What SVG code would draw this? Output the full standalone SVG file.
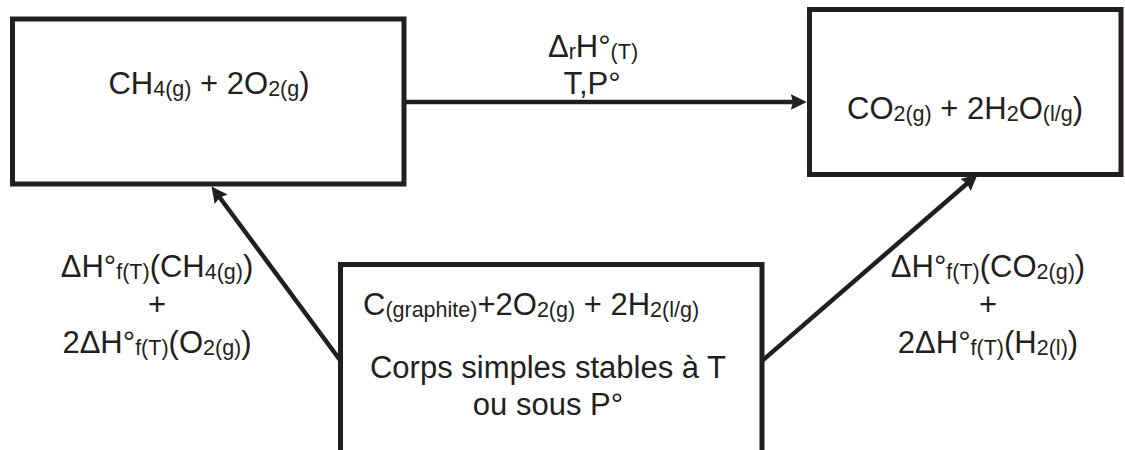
<svg xmlns="http://www.w3.org/2000/svg" width="1125" height="450" viewBox="0 0 1125 450">
<style>
.box{fill:#fff;stroke:#231f20;stroke-width:5}
.con{fill:none;stroke:#231f20;stroke-width:4.5}
text{font-family:"Liberation Sans",Arial,sans-serif;font-size:31px;fill:#231f20}
.m{text-anchor:middle}
.s{font-size:21.5px}
</style>
<defs>
<marker id="ah" markerUnits="userSpaceOnUse" markerWidth="16" markerHeight="16" viewBox="0 0 14 14" refX="9" refY="7" orient="auto">
<path d="M0,0 L14,7 L0,14 L2,7 z" fill="#231f20"/>
</marker>
</defs>
<rect width="1125" height="450" fill="#fff"/>
<g id="connectors">
<line class="con" x1="406" y1="102" x2="801" y2="102" stroke-width="5" marker-end="url(#ah)"/>
<line class="con" x1="340" y1="360" x2="214.97" y2="191.02" marker-end="url(#ah)"/>
<line class="con" x1="763" y1="360" x2="973.22" y2="178.27" marker-end="url(#ah)"/>
</g>
<g id="reactants">
<rect class="box" x="12.5" y="19" width="391.5" height="165"/>
<text class="m" x="209" y="94">CH<tspan class="s" dy="2">4(g)</tspan><tspan dy="-2"> + 2O</tspan><tspan class="s" dy="2">2(g</tspan><tspan dy="-2">)</tspan></text>
</g>
<g id="products">
<rect class="box" x="809.5" y="9.5" width="311.5" height="165"/>
<text class="m" x="965" y="119">CO<tspan class="s" dy="2">2(g)</tspan><tspan dy="-2"> + 2H</tspan><tspan class="s" dy="2">2</tspan><tspan dy="-2">O</tspan><tspan class="s" dy="2">(l/g</tspan><tspan dy="-2">)</tspan></text>
</g>
<g id="elements">
<path class="box" d="M340.5,460 V264.5 H762 V460"/>
<text x="363" y="315">C<tspan class="s" dy="2">(graphite)</tspan><tspan dy="-2">+2O</tspan><tspan class="s" dy="2">2(g)</tspan><tspan dy="-2"> + 2H</tspan><tspan class="s" dy="2">2(l/g)</tspan></text>
<text class="m" x="548" y="378">Corps simples stables à T</text>
<text class="m" x="548" y="415">ou sous P°</text>
</g>
<g id="label-reaction">
<text class="m" x="593" y="57">Δ<tspan class="s" dy="2">r</tspan><tspan dy="-2">H°</tspan><tspan class="s" dy="2">(T)</tspan></text>
<text class="m" x="592" y="94">T,P°</text>
</g>
<g id="label-left">
<text class="m" x="157" y="277">ΔH°<tspan class="s" dy="2">f(T)</tspan><tspan dy="-2">(CH</tspan><tspan class="s" dy="2">4(g)</tspan><tspan dy="-2">)</tspan></text>
<text class="m" x="157" y="315">+</text>
<text class="m" x="157" y="353">2ΔH°<tspan class="s" dy="2">f(T)</tspan><tspan dy="-2">(O</tspan><tspan class="s" dy="2">2(g)</tspan><tspan dy="-2">)</tspan></text>
</g>
<g id="label-right">
<text class="m" x="988" y="277">ΔH°<tspan class="s" dy="2">f(T)</tspan><tspan dy="-2">(CO</tspan><tspan class="s" dy="2">2(g)</tspan><tspan dy="-2">)</tspan></text>
<text class="m" x="988" y="315">+</text>
<text class="m" x="988" y="353">2ΔH°<tspan class="s" dy="2">f(T)</tspan><tspan dy="-2">(H</tspan><tspan class="s" dy="2">2(l)</tspan><tspan dy="-2">)</tspan></text>
</g>
</svg>
